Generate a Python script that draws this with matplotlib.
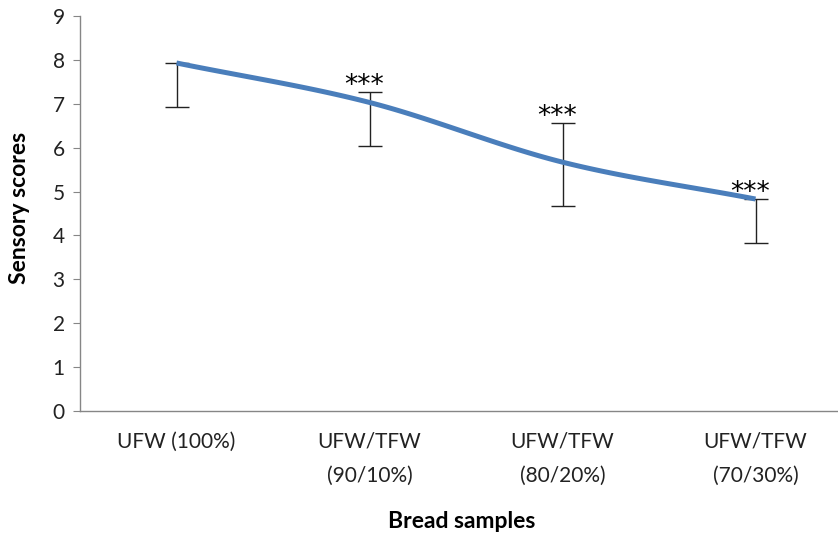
import numpy as np
import matplotlib
matplotlib.use("Agg")
import matplotlib.pyplot as plt

categories = ["UFW (100%)", "UFW/TFW\n(90/10%)", "UFW/TFW\n(80/20%)", "UFW/TFW\n(70/30%)"]
scores = [7.93, 7.03, 5.67, 4.83]
err_low = [1.0, 1.0, 1.0, 1.0]
err_high = [0.0, 0.23, 0.89, 0.0]
signif = ["", "***", "***", "***"]

plt.rcParams['font.family'] = ['Lato', 'DejaVu Sans']

fig = plt.figure(figsize=(8.38, 5.35), dpi=100)
ax = fig.add_axes([80 / 838, (535 - 411) / 535, 772 / 838, 395 / 535])

x = np.arange(len(categories))
y = np.array(scores, dtype=float)

# smoothed line through the points (Catmull-Rom spline)
def catmull_rom(px, py, n=40):
    pts = np.column_stack([px, py]).astype(float)
    ext = np.vstack([pts[0] - (pts[1] - pts[0]), pts, pts[-1] + (pts[-1] - pts[-2])])
    out = []
    for i in range(1, len(ext) - 2):
        p0, p1, p2, p3 = ext[i - 1], ext[i], ext[i + 1], ext[i + 2]
        t = np.linspace(0, 1, n)[:, None]
        seg = 0.5 * ((2 * p1) + (-p0 + p2) * t + (2 * p0 - 5 * p1 + 4 * p2 - p3) * t ** 2
                     + (-p0 + 3 * p1 - 3 * p2 + p3) * t ** 3)
        out.append(seg if i == 1 else seg[1:])
    out = np.vstack(out)
    return out[:, 0], out[:, 1]

sx, sy = catmull_rom(x, y)
ax.plot(sx, sy, color="#4A7EBB", lw=3.6, solid_capstyle="butt", zorder=3)

ax.errorbar(x, y, yerr=[err_low, err_high], fmt="none", ecolor="#222222",
            elinewidth=1.0, capsize=8.5, capthick=1.0, zorder=2)

for xi, yi, hi, s in zip(x, y, err_high, signif):
    if s:
        ax.text(xi - 0.03, yi + hi - 0.16, s, ha="center", va="bottom",
                fontsize=19, family="DejaVu Sans", color="#000000", zorder=4)

ax.set_xlim(-0.5, 3.5)
ax.set_ylim(0, 9)
ax.set_yticks(range(0, 10))
ax.set_xticks(x)
ax.set_xticklabels(categories, fontsize=15, color="#222222", linespacing=1.85, va="top")
ax.tick_params(axis="x", length=0, pad=15)
ax.tick_params(axis="y", length=5, color="#868686", labelsize=15, labelcolor="#222222", pad=6)

for side in ["top", "right"]:
    ax.spines[side].set_visible(False)
for side in ["left", "bottom"]:
    ax.spines[side].set_color("#868686")
    ax.spines[side].set_linewidth(1.0)

fig.text(20 / 838, 1 - 208 / 535, "Sensory scores", rotation=90, ha="center", va="center",
         fontsize=16.5, fontweight="bold", color="#000000")
fig.text(462 / 838, 1 - 521 / 535, "Bread samples", ha="center", va="center",
         fontsize=16.5, fontweight="bold", color="#000000")

fig.savefig("out.png", dpi=100)
